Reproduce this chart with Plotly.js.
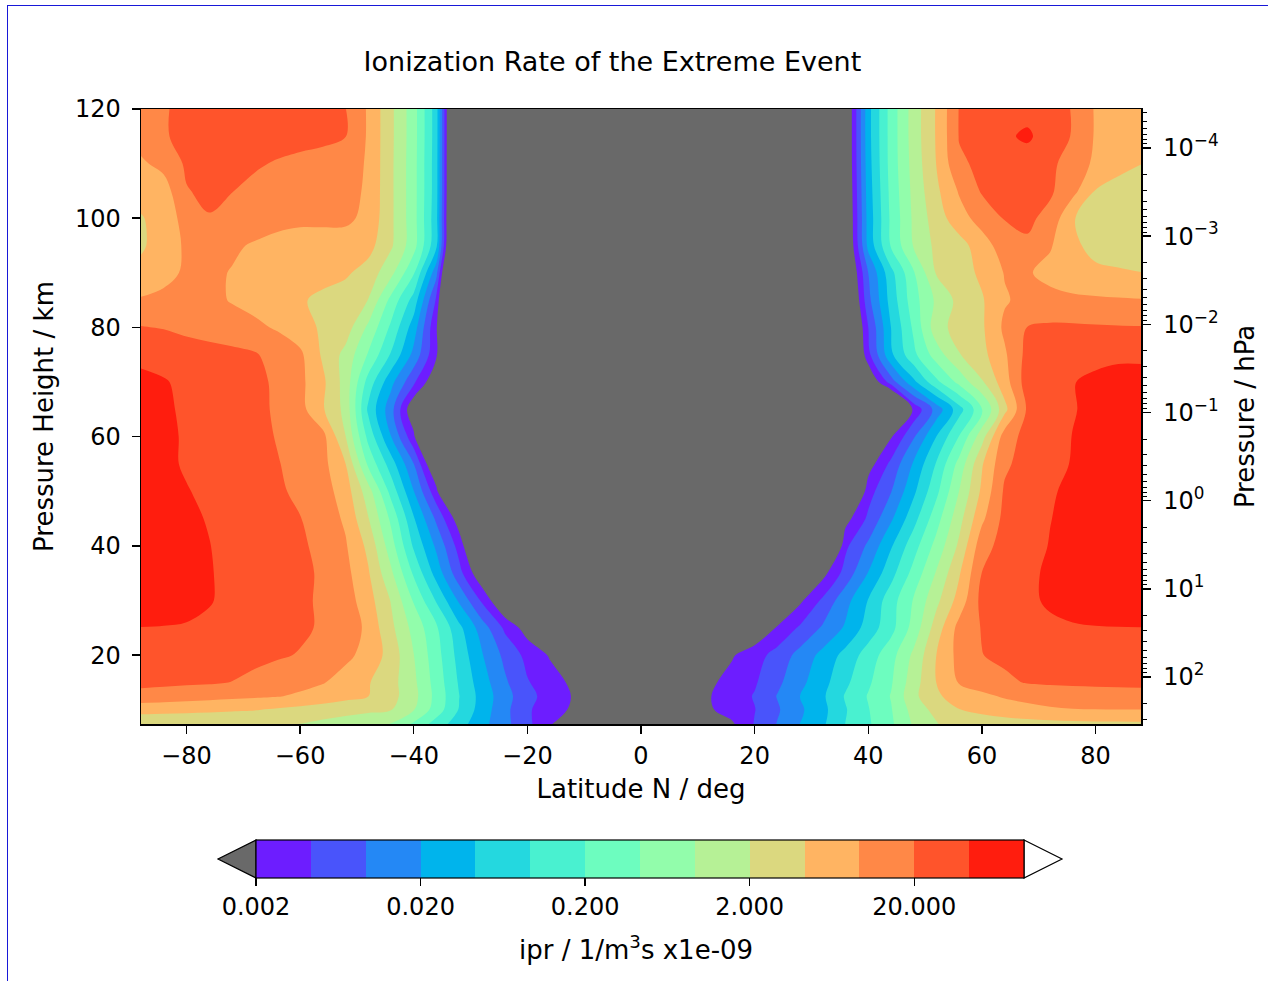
<!DOCTYPE html>
<html><head><meta charset="utf-8">
<script src="https://cdn.plot.ly/plotly-3.0.1.min.js"></script>
<style>
html,body{margin:0;padding:0;background:#fff;}
body{position:relative;width:1268px;height:981px;overflow:hidden;}
#chart{width:1268px;height:981px;position:absolute;left:0;top:0;}
#frame{position:absolute;left:7px;top:5px;width:1261px;height:976px;border-top:1px solid #1818d8;border-left:1px solid #1818d8;pointer-events:none;}
</style></head><body>
<div id="chart"></div><div id="frame"></div>
<script>
// Latitude grid (deg N) and pressure-height grid (km)
const latitudes = [-88,-84,-80,-76,-72,-68,-64,-60,-56,-52,-48,-44,-40,-36,-32,-28,-24,-20,-16,-12,-8,-4,0,4,8,12,16,20,24,28,32,36,40,44,48,52,56,60,64,68,72,76,80,84,88];
const heights = [7.4,10,12.5,15,20,25,30,35,40,45,50,55,60,65,70,75,80,85,90,95,100,105,110,115,120];

// Ionization rate (ipr / 1/m^3s x1e-09), one row per height, values west -> east
const ipr_h007 = [2.42,2.37,2.33,2.28,2.21,2.14,2.08,1.98,1.65,1.36,1.12,0.914,0.378,0.143,0.06,0.0255,0.0117,0.00524,0.00219,8.6e-4,2e-6, 2e-6,2e-6,2e-6, 2e-6,2e-6,0.00178,0.00454,0.00965,0.0203,0.0384,0.0943,0.181,0.378,1.03,1.97,2.33,2.62,2.94,3.17,3.38,3.53,3.64,3.7,3.75];
const ipr_h010 = [5.64,5.42,5.22,5.02,4.72,4.48,3.92,3.45,3.05,2.67,2.35,2.06,0.96,0.298,0.088,0.0303,0.0116,0.0048,0.00284,0.00178,2e-6, 2e-6,2e-6,2e-6, 2e-6,0.00182,0.00276,0.0042,0.00846,0.0176,0.0349,0.088,0.192,0.408,1.26,2.59,4.22,5.42,6.57,7.66,8.6,9.0,9.15,9.2,9.2];
const ipr_h012 = [15.3,14.2,13.1,12.1,11.2,10.4,9.65,8.3,6.67,5.37,4.35,2.62,1.19,0.334,0.0943,0.0322,0.0126,0.00551,0.00312,0.00192,2e-6, 2e-6,2e-6,2e-6, 2e-6,0.00192,0.00294,0.00454,0.00965,0.0203,0.0384,0.1,0.211,0.448,1.65,3.9,5.73,7.9,10.0,11.2,12.1,13.1,13.6,14.2,14.7];
const ipr_h015 = [24.2,23.3,22.4,21.6,19.7,16.6,13.9,11.6,9.7,6.83,4.55,2.64,1.1,0.31,0.0853,0.0285,0.0106,0.00458,0.0028,0.00172,2e-6, 2e-6,2e-6,2e-6, 2e-6,0.00172,0.00264,0.00396,0.00784,0.0164,0.0332,0.0792,0.178,0.396,1.43,4.35,9.8,13.0,17.3,20.9,22.4,23.3,23.7,24.0,24.2];
const ipr_h020 = [34.2,32.9,31.7,29.4,27.2,24.2,21.6,19.2,14.6,11.0,7.2,3.17,0.943,0.268,0.0702,0.0213,0.00772,0.00344,0.00185,2e-6, 2e-6,2e-6,2e-6,2e-6,2e-6, 2e-6,0.00185,0.00312,0.00574,0.0121,0.0252,0.0559,0.132,0.322,1.1,4.35,11.9,19.7,23.3,26.2,29.4,31.7,32.9,34.2,34.2];
const ipr_h025 = [42.5,41.8,40.6,38.4,34.2,30.5,26.2,22.4,18.5,17.2,7.29,2.41,0.72,0.224,0.0522,0.0138,0.00378,0.00136,2e-6, 2e-6,2e-6,2e-6,2e-6,2e-6,2e-6,2e-6, 2e-6,9.3e-4,0.00228,0.00483,0.0103,0.0223,0.06,0.155,0.581,2.89,12.0,20.8,26.2,31.7,37.0,39.9,41.5,42.2,42.5];
const ipr_h030 = [68.3,63.2,54.2,44.8,37.0,31.7,27.2,24.2,17.2,13.6,5.86,1.92,0.399,0.086,0.0178,0.00384,7.4e-4,2e-6, 2e-6,2e-6,2e-6,2e-6,2e-6,2e-6,2e-6,2e-6,2e-6,2e-6, 4.3e-6,0.00172,0.00502,0.0153,0.0448,0.142,0.465,1.65,5.86,25.2,29.4,37.0,48.3,58.6,65.7,68.3,71.0];
const ipr_h035 = [65.7,60.9,54.2,44.8,37.0,31.7,27.2,24.2,17.8,11.7,4.65,1.08,0.178,0.0317,0.00564,0.001,4.3e-6, 2e-6,2e-6,2e-6,2e-6,2e-6,2e-6,2e-6,2e-6,2e-6,2e-6,2e-6,2e-6, 2e-5,0.00153,0.00586,0.0208,0.071,0.262,1.0,3.99,20.3,27.2,35.6,50.2,58.6,65.7,68.3,68.3];
const ipr_h040 = [63.2,58.6,52.2,43.8,35.6,30.5,26.2,22.4,16.5,10.0,3.56,0.609,0.0827,0.0172,0.00317,2.9e-4,2e-6, 2e-6,2e-6,2e-6,2e-6,2e-6,2e-6,2e-6,2e-6,2e-6,2e-6,2e-6,2e-6, 2e-6,9.3e-5,0.0037,0.0108,0.0399,0.147,0.564,2.33,14.7,27.2,31.7,44.8,56.4,63.2,65.7,65.7];
const ipr_h045 = [60.9,56.4,48.3,41.5,34.2,29.4,25.2,20.5,14.2,8.27,2.08,0.37,0.0465,0.008,0.00126,4.3e-6, 2e-6,2e-6,2e-6,2e-6,2e-6,2e-6,2e-6,2e-6,2e-6,2e-6,2e-6,2e-6,2e-6,2e-6, 2e-5,0.00147,0.00502,0.0178,0.071,0.317,1.53,7.96,25.2,32.9,42.2,54.2,60.9,63.2,63.2];
const ipr_h050 = [58.6,54.2,44.8,37.0,31.7,26.2,22.4,17.2,13.1,6.32,1.31,0.153,0.0203,0.00252,2e-5, 2e-6,2e-6,2e-6,2e-6,2e-6,2e-6,2e-6,2e-6,2e-6,2e-6,2e-6,2e-6,2e-6,2e-6,2e-6,2e-6, 1.36e-4,0.00317,0.00893,0.037,0.165,0.943,5.02,22.4,31.7,39.9,50.2,58.6,60.9,63.2];
const ipr_h055 = [56.4,50.2,39.9,34.2,29.4,25.2,20.8,15.9,11.7,4.35,0.37,0.0632,0.00943,6.3e-4,2e-6, 2e-6,2e-6,2e-6,2e-6,2e-6,2e-6,2e-6,2e-6,2e-6,2e-6,2e-6,2e-6,2e-6,2e-6,2e-6,2e-6, 2e-5,0.00136,0.00522,0.0224,0.1,0.564,3.99,17.2,28.3,35.6,44.8,52.2,56.4,58.6];
const ipr_h060 = [54.2,48.3,40.6,35.6,30.5,25.2,19.2,14.7,11.7,2.03,0.159,0.0203,0.00242,2.9e-5,2e-6, 2e-6,2e-6,2e-6,2e-6,2e-6,2e-6,2e-6,2e-6,2e-6,2e-6,2e-6,2e-6,2e-6,2e-6,2e-6,2e-6, 2e-6,4.3e-6,0.00185,0.0086,0.0438,0.208,1.47,13.6,26.2,32.9,43.8,50.2,54.2,56.4];
const ipr_h065 = [50.2,46.5,39.9,34.2,29.4,25.2,17.8,12.1,4.65,1.59,0.0796,0.0126,9.3e-4,9.3e-6,2e-6, 2e-6,2e-6,2e-6,2e-6,2e-6,2e-6,2e-6,2e-6,2e-6,2e-6,2e-6,2e-6,2e-6,2e-6,2e-6,2e-6, 2e-6,4.3e-6,9.3e-5,0.00242,0.0126,0.0683,0.37,3.42,22.4,31.7,41.5,50.2,54.2,54.2];
const ipr_h070 = [48.3,44.8,38.4,34.2,29.4,25.2,17.2,11.2,5.02,1.47,0.147,0.0252,0.00502,9.3e-4,4.3e-6, 2e-6,2e-6,2e-6,2e-6,2e-6,2e-6,2e-6,2e-6,2e-6,2e-6,2e-6,2e-6,2e-6,2e-6,2e-6,2e-6, 2e-5,7.4e-4,0.00632,0.0356,0.165,0.542,1.85,6.57,29.4,35.6,42.2,48.3,54.2,54.2];
const ipr_h075 = [38.4,35.6,31.7,28.3,25.2,21.6,14.7,10.8,3.84,1.59,0.399,0.086,0.0159,0.00224,9.3e-6, 2e-6,2e-6,2e-6,2e-6,2e-6,2e-6,2e-6,2e-6,2e-6,2e-6,2e-6,2e-6,2e-6,2e-6,2e-6,2e-6, 1.36e-4,0.00342,0.037,0.165,0.632,1.92,3.42,8.27,25.2,31.7,35.6,37.0,38.4,38.4];
const ipr_h080 = [20.8,19.2,15.9,13.6,12.1,10.8,8.6,5.86,3.84,2.94,0.796,0.172,0.0294,0.00216,9.3e-6, 2e-6,2e-6,2e-6,2e-6,2e-6,2e-6,2e-6,2e-6,2e-6,2e-6,2e-6,2e-6,2e-6,2e-6,2e-6,2e-6, 2e-4,0.00431,0.0431,0.233,1.47,2.72,3.84,10.8,20.3,22.4,22.4,21.6,21.1,20.8];
const ipr_h085 = [10.0,11.2,11.7,10.8,8.93,7.37,5.86,4.65,3.7,2.94,1.97,0.342,0.0683,0.0037,9.3e-6, 2e-6,2e-6,2e-6,2e-6,2e-6,2e-6,2e-6,2e-6,2e-6,2e-6,2e-6,2e-6,2e-6,2e-6,2e-6,2e-6, 2.9e-4,0.0074,0.0586,0.317,1.08,2.52,3.99,8.6,11.7,11.7,10.8,10.4,10.0,9.65];
const ipr_h090 = [5.42,7.37,10.4,10.8,8.93,6.83,6.32,5.86,5.42,4.83,3.17,1.17,0.216,0.0117,9.3e-6, 2e-6,2e-6,2e-6,2e-6,2e-6,2e-6,2e-6,2e-6,2e-6,2e-6,2e-6,2e-6,2e-6,2e-6,2e-6,2e-6, 4.3e-4,0.0093,0.0737,0.399,2.16,3.05,5.02,9.65,10.0,7.37,5.86,5.02,4.65,4.35];
const ipr_h095 = [3.84,6.32,10.4,11.7,10.4,8.6,7.37,6.83,6.83,6.57,5.64,2.24,0.586,0.0502,2.7e-5, 2e-6,2e-6,2e-6,2e-6,2e-6,2e-6,2e-6,2e-6,2e-6,2e-6,2e-6,2e-6,2e-6,2e-6,2e-6,2e-6, 5.4e-4,0.0252,0.216,1.0,2.42,3.17,6.57,13.6,17.8,10.0,5.02,3.42,3.17,3.17];
const ipr_h100 = [3.99,6.57,11.7,19.2,17.2,13.6,11.7,10.8,10.8,10.8,7.66,2.33,0.586,0.0542,2.9e-5, 2e-6,2e-6,2e-6,2e-6,2e-6,2e-6,2e-6,2e-6,2e-6,2e-6,2e-6,2e-6,2e-6,2e-6,2e-6,2e-6, 5.9e-4,0.0272,0.233,1.08,2.94,6.83,12.6,20.8,23.3,15.9,4.48,3.17,2.94,2.94];
const ipr_h105 = [6.32,6.57,19.2,23.3,20.3,15.9,13.6,12.6,12.6,12.1,8.27,2.33,0.586,0.0586,3.2e-5, 2e-6,2e-6,2e-6,2e-6,2e-6,2e-6,2e-6,2e-6,2e-6,2e-6,2e-6,2e-6,2e-6,2e-6,2e-6,2e-6, 6.3e-4,0.0294,0.252,1.17,3.7,10.0,21.6,26.2,26.2,22.4,11.7,4.15,3.29,3.17];
const ipr_h110 = [8.27,11.7,22.4,27.2,26.2,22.4,18.5,15.9,14.7,13.6,8.47,2.33,0.586,0.0586,3.2e-5, 2e-6,2e-6,2e-6,2e-6,2e-6,2e-6,2e-6,2e-6,2e-6,2e-6,2e-6,2e-6,2e-6,2e-6,2e-6,2e-6, 6.8e-4,0.0317,0.272,1.26,4.41,17.8,23.3,27.2,27.2,23.3,14.7,7.96,5.42,4.35];
const ipr_h115 = [12.6,18.5,25.2,29.4,31.7,31.7,29.4,27.2,24.2,20.3,8.47,2.37,0.6,0.0604,3.2e-5, 2e-6,2e-6,2e-6,2e-6,2e-6,2e-6,2e-6,2e-6,2e-6,2e-6,2e-6,2e-6,2e-6,2e-6,2e-6,2e-6, 6.8e-4,0.0334,0.274,1.34,4.62,20.8,27.2,37.0,50.2,27.2,19.2,8.6,7.37,6.83];
const ipr_h120 = [13.6,18.5,25.2,29.4,31.7,31.7,29.4,27.2,24.2,20.3,8.47,2.37,0.6,0.0604,3.2e-5, 2e-6,2e-6,2e-6,2e-6,2e-6,2e-6,2e-6,2e-6,2e-6,2e-6,2e-6,2e-6,2e-6,2e-6,2e-6,2e-6, 6.8e-4,0.0334,0.274,1.34,4.62,20.8,25.2,29.4,31.7,27.2,19.2,8.6,7.66,7.37];

// Contour levels: 0.002 * 10^(k/3), k = 0..14
const lowestLevel = 0.002;
const levelsPerDecade = 3;
const bandCount = 14;
// Colour bar ticks
const cbTickValues = [0.002, 0.02, 0.2, 2, 20];
const cbTickText = ['0.002', '0.020', '0.200', '2.000', '20.000'];
// Height / latitude / pressure axis ticks
const heightTicks = [20, 40, 60, 80, 100, 120];
const latTicks = [-80, -60, -40, -20, 0, 20, 40, 60, 80];
const pressureTicks = [1e-4, 1e-3, 1e-2, 1e-1, 1, 10, 100];
const pressureTickText = ['10<sup>\u22124</sup>','10<sup>\u22123</sup>','10<sup>\u22122</sup>','10<sup>\u22121</sup>','10<sup>0</sup>','10<sup>1</sup>','10<sup>2</sup>'];

const rows = [ipr_h007, ipr_h010, ipr_h012, ipr_h015, ipr_h020, ipr_h025, ipr_h030, ipr_h035, ipr_h040, ipr_h045, ipr_h050, ipr_h055, ipr_h060, ipr_h065, ipr_h070, ipr_h075, ipr_h080, ipr_h085, ipr_h090, ipr_h095, ipr_h100, ipr_h105, ipr_h110, ipr_h115, ipr_h120];
const z = rows.map(r => r.map(v => Math.log10(v)));

// rainbow colours for the 14 bands, plus under (grey) and over (white)
const bandColors = ['#6D1DFF','#4954FB','#2488F5','#00B4EC','#24D8DF','#49F1D0','#6DFDBF','#92FDAB','#B6F196','#DBD87F','#FFB462','#FF8847','#FF542B','#FF1D0E'];
const underColor = '#696969', overColor = '#FFFFFF';
const allColors = [underColor].concat(bandColors, [overColor]);
const nSteps = allColors.length - 1;
const contourScale = [];
allColors.forEach((c, j) => {
  contourScale.push([Math.max(0, (j - 0.5) / nSteps), c]);
  contourScale.push([Math.min(1, (j + 0.5) / nSteps), c]);
});
const barScale = [];
bandColors.forEach((c, k) => {
  barScale.push([k / bandColors.length, c]);
  barScale.push([(k + 1) / bandColors.length, c]);
});

const cStart = Math.log10(lowestLevel);
const cSize = 1 / levelsPerDecade;
const cEnd = cStart + bandCount * cSize;

// minor ticks on the pressure axis
const minorP = [];
for (let e = -5; e <= 2; e++) for (let k = 2; k <= 9; k++) minorP.push(k * Math.pow(10, e));

const FONT = 'DejaVu Sans, Verdana, sans-serif';
const tickFont = {family: FONT, size: 24, color: '#000'};
const labelFont = {family: FONT, size: 26, color: '#000'};

const contourTrace = {
  type: 'contour', x: latitudes, y: heights, z: z,
  autocontour: false,
  contours: {start: cStart, end: cEnd, size: cSize, coloring: 'fill', showlines: false},
  line: {width: 0, smoothing: 1},
  colorscale: contourScale,
  showscale: false,
  hoverinfo: 'skip'
};

// colour bar (carries the pressure axis as well); it draws no marks
const barTrace = {
  type: 'scatter', mode: 'markers', x: [null, null], y: [null, null], yaxis: 'y2',
  hoverinfo: 'skip', showlegend: false,
  marker: {
    color: [cStart, cEnd], cmin: cStart, cmax: cEnd, colorscale: barScale, showscale: true,
    colorbar: {
      orientation: 'h', x: 0.499, xanchor: 'center', y: -0.1886, yanchor: 'top',
      len: 768, lenmode: 'pixels', thickness: 38, thicknessmode: 'pixels',
      xpad: 0, ypad: 0, outlinewidth: 1.2, outlinecolor: '#000',
      tickmode: 'array', tickvals: cbTickValues.map(v => Math.log10(v)), ticktext: cbTickText,
      ticks: 'outside', ticklen: 8, tickwidth: 1.5, tickcolor: '#000',
      tickfont: tickFont
    }
  }
};

const layout = {
  width: 1268, height: 981,
  paper_bgcolor: '#fff', plot_bgcolor: '#fff',
  margin: {l: 141, r: 127, t: 109, b: 257, autoexpand: false},
  font: {family: FONT, color: '#000'},
  title: {text: 'Ionization Rate of the Extreme Event', x: 0.483, xref: 'container', xanchor: 'center', y: 0.937, yref: 'container', yanchor: 'middle', font: {family: FONT, size: 27, color: '#000'}},
  xaxis: {range: [-88, 88], tickmode: 'array', tickvals: latTicks, ticks: 'outside', ticklen: 8, tickwidth: 1.5, tickcolor: '#000',
    ticklabelstandoff: 2,
    showline: true, mirror: true, linecolor: '#000', linewidth: 1.5, showgrid: false, zeroline: false, tickfont: tickFont,
    title: {text: 'Latitude N / deg', font: labelFont, standoff: 10}},
  yaxis: {range: [7.4, 120], tickmode: 'array', tickvals: heightTicks, ticks: 'outside', ticklen: 8, tickwidth: 1.5, tickcolor: '#000',
    ticklabelstandoff: 6,
    showline: true, mirror: true, linecolor: '#000', linewidth: 1.5, showgrid: false, zeroline: false, tickfont: tickFont,
    title: {text: 'Pressure Height / km', font: labelFont, standoff: 14}},
  yaxis2: {overlaying: 'y', side: 'right', anchor: 'x', type: 'log', range: [2.533, -4.442],
    tickmode: 'array', tickvals: pressureTicks, ticktext: pressureTickText,
    ticks: 'outside', ticklen: 8, tickwidth: 1.5, tickcolor: '#000', ticklabelstandoff: 8,
    minor: {tickmode: 'array', tickvals: minorP, ticks: 'outside', ticklen: 4, tickwidth: 1, tickcolor: '#000', showgrid: false},
    showline: true, linecolor: '#000', linewidth: 1.5, showgrid: false, zeroline: false, tickfont: tickFont,
    title: {text: 'Pressure / hPa', font: labelFont, standoff: 18}},
  annotations: [
    {text: 'ipr / 1/m<sup>3</sup>s x1e-09', xref: 'paper', yref: 'paper', x: 0.495, y: -0.364, xanchor: 'center', yanchor: 'middle', showarrow: false, font: labelFont}
  ],
  shapes: [
    {type: 'path', xref: 'paper', yref: 'paper', path: 'M 0.115 -0.1886 L 0.077 -0.2195 L 0.115 -0.2504 Z', fillcolor: underColor, line: {color: '#000', width: 1.2}},
    {type: 'path', xref: 'paper', yref: 'paper', path: 'M 0.883 -0.1886 L 0.921 -0.2195 L 0.883 -0.2504 Z', fillcolor: overColor, line: {color: '#000', width: 1.2}}
  ],
  showlegend: false
};

Plotly.newPlot('chart', [contourTrace, barTrace], layout, {staticPlot: true, displayModeBar: false});
</script>
</body></html>
